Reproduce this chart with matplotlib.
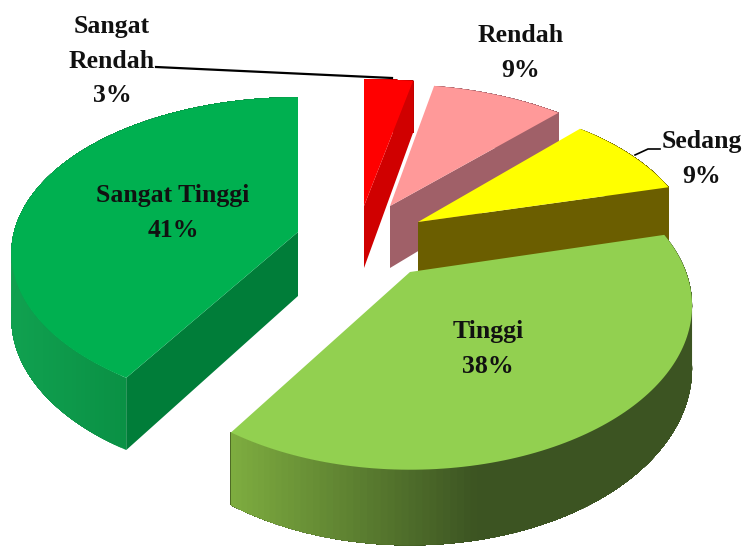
import numpy as np
import matplotlib
matplotlib.use("Agg")
import matplotlib.pyplot as plt
from matplotlib.colors import to_rgb
from matplotlib.patches import Polygon

nilai = [3, 9, 9, 38, 41]
kategori = ["Sangat\nRendah\n3%", "Rendah\n9%", "Sedang\n9%", "Tinggi\n38%", "Sangat Tinggi\n41%"]

warna_atas = ["#ff0000", "#ff9999", "#ffff00", "#92d050", "#00b050"]
warna_potong = ["#d00000", "#a06068", "#6b5e00", "#5f8a30", "#007d39"]
warna_dinding = [("#c00000", "#c00000"), ("#a06068", "#a06068"), ("#6b5e00", "#6b5e00"),
                 ("#3c5422", "#7fae40"), ("#0a9145", "#10a04f")]
# batas x gradien dinding (gelap, terang)
gradien_x = [(0, 1), (0, 1), (0, 1), (480, 230), (125, 20)]

# titik pusat tiap potongan (pixel), jadi efek explode
pusat = [(364, 206), (390, 206), (418, 222), (410, 272), (298, 232)]
RX = [315, 283, 272, 276, 284]
RY = [153, 147, 147, 157, 153]
K = [0.206, 0.206, 0.206, 0.206, 0.135]
TEBAL = [62, 62, 62, 60, 64]


def proyeksi(sudut, i):
    cx, cy = pusat[i]
    x = np.sin(sudut)
    y = np.cos(sudut)
    w = 1 + K[i] * y
    return cx + RX[i] * x / w, cy - RY[i] * y / w, TEBAL[i] / w


def poligon(ax, xs, ys, warna, z, halus=True):
    ax.add_patch(Polygon(np.column_stack([xs, ys]), closed=True, facecolor=warna,
                         edgecolor="none", linewidth=0, antialiased=halus, zorder=z))


def gambar_potongan(ax, i, a0, a1):
    cx, cy = pusat[i]
    z = 2 + i * 2
    t = np.linspace(a0, a1, 120)
    xs, ys, d = proyeksi(t, i)

    # dinding luar, gradien digambar berlapis supaya tidak bergaris
    c0, c1 = np.array(to_rgb(warna_dinding[i][0])), np.array(to_rgb(warna_dinding[i][1]))
    x_gelap, x_terang = gradien_x[i]
    for j in range(len(t) - 1):
        f = np.clip((xs[j] - x_gelap) / (x_terang - x_gelap), 0, 1)
        warna = c0 * (1 - f) + c1 * f
        poligon(ax, np.r_[xs[j:], xs[j:][::-1]], np.r_[ys[j:], (ys + d)[j:][::-1]],
                tuple(warna), z)

    # sisi potongan
    if i == 4:
        ex, ey, ed = xs[0], ys[0], d[0]
    else:
        ex, ey, ed = xs[-1], ys[-1], d[-1]
    if i != 3:
        poligon(ax, [cx, ex, ex, cx], [cy, ey, ey + ed, cy + TEBAL[i]], warna_potong[i], z)

    # permukaan atas
    poligon(ax, np.r_[cx, xs], np.r_[cy, ys], warna_atas[i], z + 1)


fig = plt.figure(figsize=(7.47, 5.46), dpi=100)
ax = fig.add_axes([0, 0, 1, 1])
ax.set_xlim(0, 747)
ax.set_ylim(546, 0)
ax.axis("off")

batas = np.cumsum([0] + nilai) / sum(nilai) * 2 * np.pi
for i in [4, 0, 1, 2, 3]:
    gambar_potongan(ax, i, batas[i], batas[i + 1])

# garis penunjuk
ax.plot([156, 392], [67, 78], color="black", lw=1.6, zorder=20)
ax.plot([635, 648, 660], [155, 149, 149], color="black", lw=1.2, zorder=20)

posisi_label = [(112, 61), (521, 53), (702, 159), (488, 349), (173, 213)]
for teks, (x, y) in zip(kategori, posisi_label):
    ax.text(x, y, teks, family="Liberation Serif", fontweight="bold", fontsize=18.5,
            ha="center", va="center", linespacing=1.62, color="#111111", zorder=30)

fig.savefig("out.png", dpi=100)
